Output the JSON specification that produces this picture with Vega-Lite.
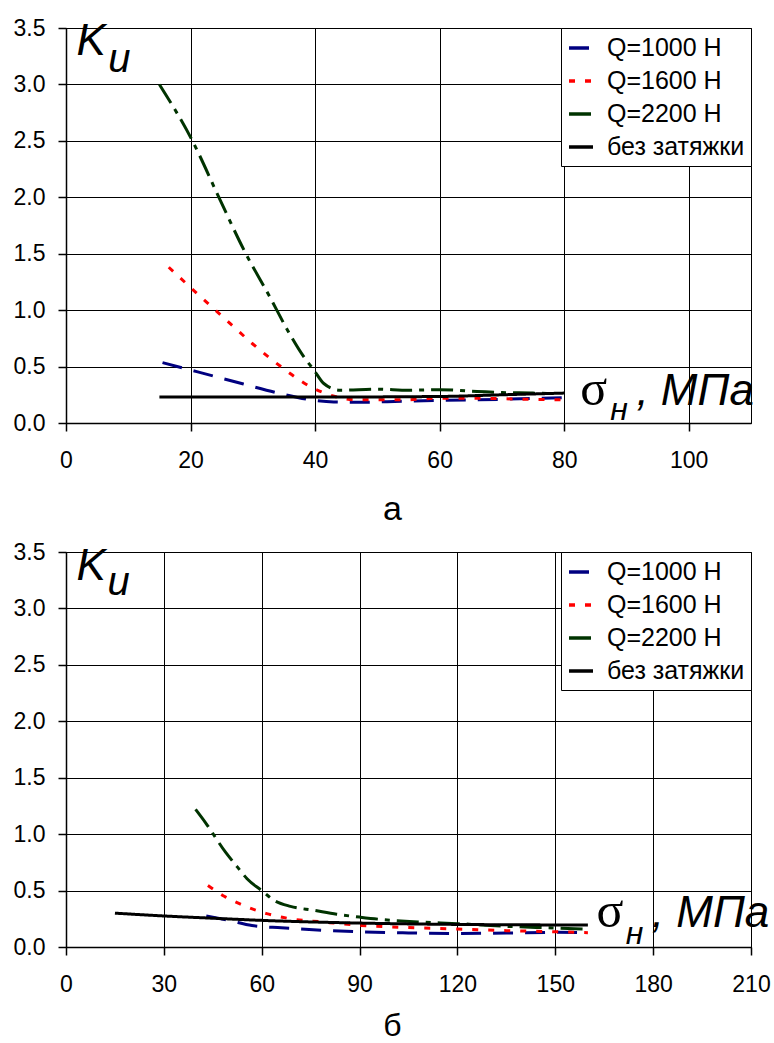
{
  "$schema": "https://vega.github.io/schema/vega-lite/v6.json",
  "padding": {"left": 12, "top": 16, "right": 4, "bottom": 0},
  "background": "white",
  "config": {
    "font": "Liberation Sans",
    "view": {"stroke": "#000", "strokeWidth": 1},
    "axis": {
      "labelFont": "Liberation Sans", "labelFontSize": 23, "labelColor": "#000",
      "domainColor": "#000", "domainWidth": 1.5, "tickColor": "#000", "tickSize": 8, "tickWidth": 1.5,
      "gridColor": "#000", "gridOpacity": 1, "gridWidth": 1,
      "titleFont": "Liberation Sans", "titleFontWeight": "normal", "titleColor": "#000",
      "labelFlush": false, "labelOverlap": false
    },
    "axisX": {"labelPadding": 18, "labelAngle": 0},
    "axisY": {"labelPadding": 13},
    "legend": {
      "orient": "top-right", "offset": 0, "strokeColor": "#000", "fillColor": "white",
      "padding": 6, "symbolType": "stroke", "symbolSize": 576, "symbolStrokeWidth": 3.5,
      "labelFont": "Liberation Sans", "labelFontSize": 25, "labelColor": "#000",
      "rowPadding": 6, "labelOffset": 12, "cornerRadius": 0, "labelLimit": 300
    }
  },
  "datasets": {
    "one": [{"n": 1}],
    "a": [
      {"series": "Q=1000 H", "s": 15.5, "k": 0.535},
      {"series": "Q=1000 H", "s": 21, "k": 0.455},
      {"series": "Q=1000 H", "s": 28.5, "k": 0.345},
      {"series": "Q=1000 H", "s": 34.5, "k": 0.26},
      {"series": "Q=1000 H", "s": 40, "k": 0.2},
      {"series": "Q=1000 H", "s": 43, "k": 0.186},
      {"series": "Q=1000 H", "s": 47, "k": 0.183},
      {"series": "Q=1000 H", "s": 54, "k": 0.193},
      {"series": "Q=1000 H", "s": 60, "k": 0.2},
      {"series": "Q=1000 H", "s": 70, "k": 0.21},
      {"series": "Q=1000 H", "s": 80, "k": 0.225},
      {"series": "Q=1600 H", "s": 16.5, "k": 1.38},
      {"series": "Q=1600 H", "s": 21, "k": 1.15},
      {"series": "Q=1600 H", "s": 25.5, "k": 0.925},
      {"series": "Q=1600 H", "s": 30, "k": 0.7},
      {"series": "Q=1600 H", "s": 34.5, "k": 0.5},
      {"series": "Q=1600 H", "s": 39.3, "k": 0.32},
      {"series": "Q=1600 H", "s": 42, "k": 0.255},
      {"series": "Q=1600 H", "s": 47, "k": 0.205},
      {"series": "Q=1600 H", "s": 54, "k": 0.205},
      {"series": "Q=1600 H", "s": 60, "k": 0.22},
      {"series": "Q=1600 H", "s": 66, "k": 0.22},
      {"series": "Q=1600 H", "s": 70, "k": 0.215},
      {"series": "Q=1600 H", "s": 80, "k": 0.205},
      {"series": "Q=2200 H", "s": 15, "k": 3.0},
      {"series": "Q=2200 H", "s": 20.3, "k": 2.5},
      {"series": "Q=2200 H", "s": 24.8, "k": 1.97},
      {"series": "Q=2200 H", "s": 28.6, "k": 1.53},
      {"series": "Q=2200 H", "s": 32.9, "k": 1.1},
      {"series": "Q=2200 H", "s": 35.6, "k": 0.82},
      {"series": "Q=2200 H", "s": 38.2, "k": 0.585},
      {"series": "Q=2200 H", "s": 39.8, "k": 0.47},
      {"series": "Q=2200 H", "s": 41.4, "k": 0.35},
      {"series": "Q=2200 H", "s": 44, "k": 0.29},
      {"series": "Q=2200 H", "s": 50, "k": 0.3},
      {"series": "Q=2200 H", "s": 55, "k": 0.29},
      {"series": "Q=2200 H", "s": 60, "k": 0.295},
      {"series": "Q=2200 H", "s": 66, "k": 0.28},
      {"series": "Q=2200 H", "s": 70, "k": 0.27},
      {"series": "Q=2200 H", "s": 75, "k": 0.265},
      {"series": "Q=2200 H", "s": 78, "k": 0.26},
      {"series": "без затяжки", "s": 15, "k": 0.23},
      {"series": "без затяжки", "s": 40, "k": 0.23},
      {"series": "без затяжки", "s": 60, "k": 0.235},
      {"series": "без затяжки", "s": 70, "k": 0.25},
      {"series": "без затяжки", "s": 80, "k": 0.265}
    ],
    "b": [
      {"series": "Q=1000 H", "s": 43, "k": 0.275},
      {"series": "Q=1000 H", "s": 50, "k": 0.235},
      {"series": "Q=1000 H", "s": 57, "k": 0.19},
      {"series": "Q=1000 H", "s": 66, "k": 0.17},
      {"series": "Q=1000 H", "s": 79, "k": 0.148},
      {"series": "Q=1000 H", "s": 90, "k": 0.135},
      {"series": "Q=1000 H", "s": 105, "k": 0.125},
      {"series": "Q=1000 H", "s": 120, "k": 0.12},
      {"series": "Q=1000 H", "s": 135, "k": 0.124},
      {"series": "Q=1000 H", "s": 150, "k": 0.13},
      {"series": "Q=1000 H", "s": 160, "k": 0.125},
      {"series": "Q=1600 H", "s": 43.5, "k": 0.545},
      {"series": "Q=1600 H", "s": 48.5, "k": 0.45},
      {"series": "Q=1600 H", "s": 53.5, "k": 0.38},
      {"series": "Q=1600 H", "s": 61.5, "k": 0.296},
      {"series": "Q=1600 H", "s": 68, "k": 0.254},
      {"series": "Q=1600 H", "s": 79, "k": 0.221},
      {"series": "Q=1600 H", "s": 90, "k": 0.192},
      {"series": "Q=1600 H", "s": 105, "k": 0.172},
      {"series": "Q=1600 H", "s": 120, "k": 0.159},
      {"series": "Q=1600 H", "s": 135, "k": 0.145},
      {"series": "Q=1600 H", "s": 150, "k": 0.135},
      {"series": "Q=1600 H", "s": 160, "k": 0.127},
      {"series": "Q=2200 H", "s": 39.7, "k": 1.22},
      {"series": "Q=2200 H", "s": 42.8, "k": 1.1},
      {"series": "Q=2200 H", "s": 48.9, "k": 0.84},
      {"series": "Q=2200 H", "s": 52.5, "k": 0.71},
      {"series": "Q=2200 H", "s": 55.5, "k": 0.605},
      {"series": "Q=2200 H", "s": 60, "k": 0.5},
      {"series": "Q=2200 H", "s": 63.7, "k": 0.415},
      {"series": "Q=2200 H", "s": 68.8, "k": 0.36},
      {"series": "Q=2200 H", "s": 76, "k": 0.325},
      {"series": "Q=2200 H", "s": 83, "k": 0.29},
      {"series": "Q=2200 H", "s": 90, "k": 0.265},
      {"series": "Q=2200 H", "s": 97.4, "k": 0.242},
      {"series": "Q=2200 H", "s": 108.7, "k": 0.221},
      {"series": "Q=2200 H", "s": 120, "k": 0.207},
      {"series": "Q=2200 H", "s": 135, "k": 0.183},
      {"series": "Q=2200 H", "s": 150, "k": 0.168},
      {"series": "Q=2200 H", "s": 160, "k": 0.157},
      {"series": "без затяжки", "s": 15, "k": 0.3},
      {"series": "без затяжки", "s": 30, "k": 0.275},
      {"series": "без затяжки", "s": 45, "k": 0.255},
      {"series": "без затяжки", "s": 60, "k": 0.236},
      {"series": "без затяжки", "s": 90, "k": 0.212},
      {"series": "без затяжки", "s": 120, "k": 0.2},
      {"series": "без затяжки", "s": 160, "k": 0.195}
    ]
  },
  "bounds": "flush",
  "spacing": 129,
  "resolve": {
    "scale": {"x": "independent", "y": "independent", "color": "independent", "strokeDash": "independent"},
    "legend": {"color": "independent", "strokeDash": "independent"}
  },
  "vconcat": [
    {
      "width": 685,
      "height": 395,
      "layer": [
        {
          "data": {"name": "a"},
          "mark": {"type": "line", "interpolate": "monotone", "strokeWidth": 3},
          "encoding": {
            "x": {"field": "s", "type": "quantitative", "scale": {"domain": [0, 110], "nice": false},
                  "axis": {"values": [0, 20, 40, 60, 80, 100], "title": "а", "titleFontSize": 34, "titleX": 326, "titleY": 96, "titleBaseline": "alphabetic", "titleAlign": "center", "titleAnchor": null}},
            "y": {"field": "k", "type": "quantitative", "scale": {"domain": [0, 3.5], "nice": false},
                  "axis": {"values": [0, 0.5, 1, 1.5, 2, 2.5, 3, 3.5], "format": ".1f", "title": null}},
            "color": {"field": "series", "type": "nominal",
                      "scale": {"domain": ["Q=1000 H", "Q=1600 H", "Q=2200 H", "без затяжки"], "range": ["#000080", "#ff0000", "#003300", "#000000"]},
                      "legend": {"title": null}},
            "strokeDash": {"field": "series", "type": "nominal",
                      "scale": {"domain": ["Q=1000 H", "Q=1600 H", "Q=2200 H", "без затяжки"], "range": [[20, 12], [6, 10], [22, 7, 5, 7], [1, 0]]},
                      "legend": {"title": null}}
          }
        },
        {"data": {"name": "one"}, "mark": {"type": "text", "text": "K", "font": "Liberation Sans", "fontStyle": "italic", "fontSize": 44, "align": "left", "baseline": "alphabetic"},
         "encoding": {"x": {"datum": 1.7}, "y": {"datum": 3.26}}},
        {"data": {"name": "one"}, "mark": {"type": "text", "text": "u", "font": "Liberation Sans", "fontStyle": "italic", "fontSize": 40, "align": "left", "baseline": "alphabetic"},
         "encoding": {"x": {"datum": 6.8}, "y": {"datum": 3.11}}},
        {"data": {"name": "one"}, "mark": {"type": "text", "text": "σ", "font": "Liberation Serif", "fontSize": 50, "align": "left", "baseline": "alphabetic"},
         "encoding": {"x": {"datum": 82.6}, "y": {"datum": 0.157}}},
        {"data": {"name": "one"}, "mark": {"type": "text", "text": "н", "font": "Liberation Sans", "fontStyle": "italic", "fontSize": 32, "align": "left", "baseline": "alphabetic"},
         "encoding": {"x": {"datum": 87.4}, "y": {"datum": 0.03}}},
        {"data": {"name": "one"}, "mark": {"type": "text", "text": ", МПа", "font": "Liberation Sans", "fontStyle": "italic", "fontSize": 44, "align": "left", "baseline": "alphabetic"},
         "encoding": {"x": {"datum": 91.6}, "y": {"datum": 0.157}}}
      ]
    },
    {
      "width": 685,
      "height": 395,
      "layer": [
        {
          "data": {"name": "b"},
          "mark": {"type": "line", "interpolate": "monotone", "strokeWidth": 3},
          "encoding": {
            "x": {"field": "s", "type": "quantitative", "scale": {"domain": [0, 210], "nice": false},
                  "axis": {"values": [0, 30, 60, 90, 120, 150, 180, 210], "title": "б", "titleFontSize": 32, "titleX": 326, "titleY": 88, "titleBaseline": "alphabetic", "titleAlign": "center", "titleAnchor": null}},
            "y": {"field": "k", "type": "quantitative", "scale": {"domain": [0, 3.5], "nice": false},
                  "axis": {"values": [0, 0.5, 1, 1.5, 2, 2.5, 3, 3.5], "format": ".1f", "title": null}},
            "color": {"field": "series", "type": "nominal",
                      "scale": {"domain": ["Q=1000 H", "Q=1600 H", "Q=2200 H", "без затяжки"], "range": ["#000080", "#ff0000", "#003300", "#000000"]},
                      "legend": {"title": null}},
            "strokeDash": {"field": "series", "type": "nominal",
                      "scale": {"domain": ["Q=1000 H", "Q=1600 H", "Q=2200 H", "без затяжки"], "range": [[20, 12], [6, 10], [22, 7, 5, 7], [1, 0]]},
                      "legend": {"title": null}}
          }
        },
        {"data": {"name": "one"}, "mark": {"type": "text", "text": "K", "font": "Liberation Sans", "fontStyle": "italic", "fontSize": 44, "align": "left", "baseline": "alphabetic"},
         "encoding": {"x": {"datum": 3.2}, "y": {"datum": 3.25}}},
        {"data": {"name": "one"}, "mark": {"type": "text", "text": "u", "font": "Liberation Sans", "fontStyle": "italic", "fontSize": 40, "align": "left", "baseline": "alphabetic"},
         "encoding": {"x": {"datum": 12.7}, "y": {"datum": 3.12}}},
        {"data": {"name": "one"}, "mark": {"type": "text", "text": "σ", "font": "Liberation Serif", "fontSize": 50, "align": "left", "baseline": "alphabetic"},
         "encoding": {"x": {"datum": 162.6}, "y": {"datum": 0.175}}},
        {"data": {"name": "one"}, "mark": {"type": "text", "text": "н", "font": "Liberation Sans", "fontStyle": "italic", "fontSize": 32, "align": "left", "baseline": "alphabetic"},
         "encoding": {"x": {"datum": 171.6}, "y": {"datum": 0.03}}},
        {"data": {"name": "one"}, "mark": {"type": "text", "text": ", МПа", "font": "Liberation Sans", "fontStyle": "italic", "fontSize": 44, "align": "left", "baseline": "alphabetic"},
         "encoding": {"x": {"datum": 179.6}, "y": {"datum": 0.175}}}
      ]
    }
  ]
}
